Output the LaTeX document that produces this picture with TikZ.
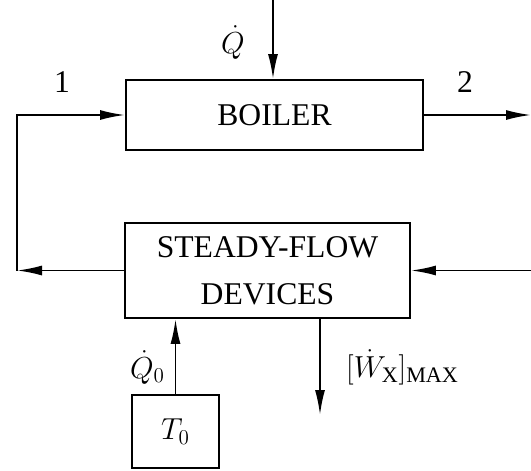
\documentclass[tikz,border=0pt]{standalone}
\usepackage{fontspec}
\setmainfont{Liberation Serif}
\usepackage{amsmath}
\usetikzlibrary{arrows.meta, positioning, calc}
\newcommand{\bigfont}{\fontsize{18}{26.5}\selectfont}
\tikzset{
  box/.style={draw, line width=1.1pt, align=center, font=\bigfont, inner sep=0pt},
  flow/.style={-{Latex[length=5mm,width=2mm]}, line width=1.1pt},
  lbl/.style={font=\bigfont, inner sep=1pt},
}

\begin{document}
\begin{tikzpicture}
        \useasboundingbox (0,0) rectangle (10.62,9.4);
        \node[box,minimum width=5.94cm,minimum height=1.4cm] (boiler) at (5.49,7.1) {BOILER};
        \node[box,minimum width=5.7cm,minimum height=1.9cm] (sfd) at (5.35,3.99) {STEADY-FLOW\\DEVICES};
        \node[box,minimum width=1.74cm,minimum height=1.46cm] (res) at (3.51,0.77) {$T_0$};
        \coordinate (qtop) at (5.46,9.4);
        \coordinate (lc) at (0.34,3.99);
        \coordinate (out) at (10.62,7.1);
        \coordinate (inr) at (10.62,3.99);
        \coordinate (wend) at (6.4,1.1);
        \node[lbl] (qlab) at (4.66,8.55) {$\dot{Q}$};
        \node[lbl] (one) at (1.24,7.75) {1};
        \node[lbl] (two) at (9.3,7.75) {2};
        \node[lbl] (q0lab) at (2.95,2.05) {$\dot{Q}_0$};
        \node[lbl] (wlab) at (8.05,2.05) {$[\dot{W}_{\mathrm{X}}]_{\mathrm{MAX}}$};
        \draw[flow] (qtop)--(qtop |- boiler.north);
        \draw[flow] (boiler.east)--(out);
        \draw[flow] (sfd.west)--(lc);
        \draw[flow] (lc)|-(boiler.west);
        \draw[flow] (inr)--(sfd.east);
        \draw[flow] (res.north)--(res.north |- sfd.south);
        \draw[flow] (sfd.south -| wend)--(wend);
      \end{tikzpicture}
\end{document}
